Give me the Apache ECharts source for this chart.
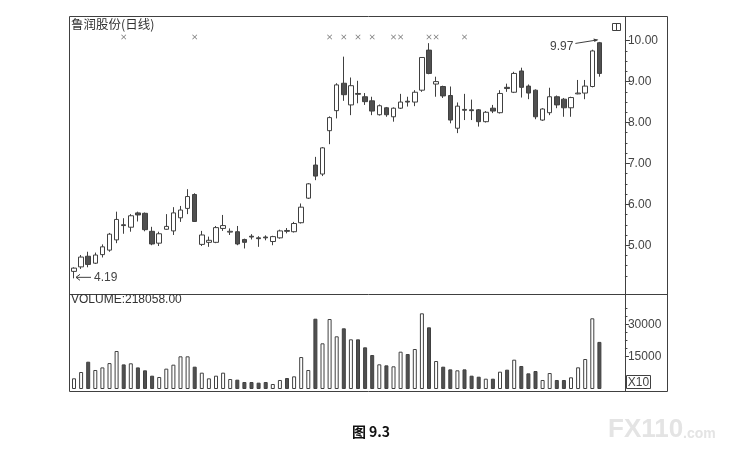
<!DOCTYPE html>
<html><head><meta charset="utf-8">
<script src="https://cdn.jsdelivr.net/npm/echarts@6/dist/echarts.min.js"></script>
<style>html,body{margin:0;padding:0;background:#fff}#c{width:733px;height:454px}</style>
</head><body><div id="c"></div>
<script>
// ---- data ----
const openP  = [4.36,4.47,4.73,4.56,4.77,4.88,5.13,5.50,5.44,5.79,5.78,5.34,5.05,5.39,5.35,5.67,5.90,6.24,5.02,5.07,5.07,5.41,5.32,5.33,5.14,5.22,5.18,5.20,5.09,5.18,5.36,5.33,5.55,6.15,6.96,6.74,7.80,8.29,8.96,8.43,8.71,8.63,8.53,8.19,8.36,8.14,8.35,8.52,8.50,8.79,9.77,8.94,8.88,8.66,7.86,8.32,8.31,8.31,8.02,8.35,8.24,8.86,8.74,9.26,8.89,8.79,8.06,8.24,8.63,8.57,8.36,8.70,8.72,8.88,9.95];
const closeP = [4.44,4.71,4.53,4.76,4.96,5.27,5.63,5.48,5.72,5.74,5.38,5.03,5.28,5.46,5.79,5.86,6.19,5.58,5.25,5.12,5.43,5.48,5.34,5.03,5.07,5.20,5.16,5.18,5.21,5.35,5.34,5.53,5.93,6.50,6.69,7.38,8.12,8.92,8.68,8.90,8.69,8.51,8.28,8.41,8.19,8.35,8.50,8.50,8.74,9.59,9.20,9.00,8.65,8.06,8.40,8.30,8.29,8.02,8.25,8.28,8.71,8.83,9.20,8.86,8.72,8.14,8.33,8.63,8.43,8.36,8.61,8.72,8.89,9.75,9.20];
const lowP   = [4.19,4.42,4.46,4.54,4.70,4.84,5.05,5.28,5.33,5.58,5.34,5.00,4.98,5.38,5.25,5.57,5.76,5.57,4.98,4.96,5.05,5.35,5.25,5.00,4.92,5.14,4.96,5.12,5.00,5.16,5.29,5.31,5.53,6.13,6.59,6.69,7.47,8.10,8.53,8.18,8.47,8.43,8.18,8.17,8.14,8.02,8.33,8.39,8.40,8.75,9.18,8.63,8.60,7.98,7.74,8.06,8.06,7.90,8.00,8.23,8.22,8.75,8.72,8.61,8.57,8.08,8.04,8.18,8.35,8.14,8.14,8.69,8.57,8.86,9.12];
const highP  = [4.46,4.76,4.84,4.82,5.02,5.30,5.82,5.66,5.76,5.82,5.80,5.45,5.33,5.76,5.93,5.96,6.37,6.27,5.35,5.21,5.47,5.74,5.41,5.47,5.16,5.27,5.22,5.24,5.23,5.38,5.42,5.57,6.02,6.52,7.16,7.40,8.15,8.96,9.61,9.10,9.02,8.72,8.63,8.44,8.38,8.37,8.70,8.63,8.79,9.60,9.94,9.12,8.90,8.88,8.49,8.70,8.56,8.33,8.28,8.43,8.79,8.95,9.24,9.34,8.93,8.81,8.35,8.85,8.66,8.60,8.63,9.04,9.04,9.78,9.97];
// volume in units of 10 shares (axis is marked X10)
const volume = [4950,7870,12640,8800,10000,12000,17600,11400,11900,10000,8650,6170,5560,9420,11270,15130,15130,10340,7560,4940,6170,7560,4630,4320,3240,3240,2930,3240,2320,4170,5090,5860,14800,8800,32550,21150,32400,24390,28100,23000,23000,19300,15740,11430,10960,10500,17280,16200,18520,35040,28560,12960,10340,9100,8650,9100,6170,5700,4780,4780,8020,8950,13580,10650,7250,8330,4170,7400,4170,4170,5400,10040,13890,32730,21806];
// days carrying an "x" signal mark above the candles
const markDays = [7,17,36,38,40,42,45,46,50,51,55];
const markLevel = 10.09;
const priceTicks = [5,6,7,8,9,10];
const volTicks = [15000,30000];
const categories = openP.map((_, i) => 'D' + (i + 1));
const titleText = '鲁润股份(日线)';
const volLabel = 'VOLUME:218058.00';
const caption = '图 9.3';

// ---- chart ----
const chart = echarts.init(document.getElementById('c'));
const PMIN = 3.807, PMAX = 10.604;
const VMIN = -1389, VMAX = 43985;
const GL = 70.45, GW = 532.5;
const INK = '#404040', DARK = '#505050';

const candle = openP.map((o, i) => [o, closeP[i], lowP[i], highP[i]]);
const volData = volume.map((v, i) => ({
  value: v,
  itemStyle: closeP[i] >= openP[i]
    ? { color: '#fff', borderColor: INK, borderWidth: 1 }
    : { color: DARK, borderColor: INK, borderWidth: 1 }
}));
const minorP = [];
for (let k = 17; k <= 40; k++) { const v = k / 4; if (v % 1 !== 0) minorP.push(v); }
const minorV = [18750, 22500, 26250, 33750, 37500];

const labelStyle = { color: '#444', fontSize: 12, fontFamily: 'Liberation Sans, Arial, sans-serif', margin: 3 };

chart.setOption({
  animation: false,
  backgroundColor: '#fff',
  grid: [
    { left: GL, width: GW, top: 16, height: 278 },
    { left: GL, width: GW, top: 294, height: 98 }
  ],
  xAxis: [
    { type: 'category', gridIndex: 0, data: categories, boundaryGap: true, show: false },
    { type: 'category', gridIndex: 1, data: categories, boundaryGap: true, show: false }
  ],
  yAxis: [
    { type: 'value', gridIndex: 0, position: 'right', offset: 22, min: PMIN, max: PMAX,
      axisLine: { show: false }, splitLine: { show: false },
      axisTick: { show: true, length: 5, customValues: priceTicks, lineStyle: { color: INK } },
      axisLabel: Object.assign({ customValues: priceTicks, formatter: v => v.toFixed(2) }, labelStyle) },
    { type: 'value', gridIndex: 0, position: 'right', offset: 22, min: PMIN, max: PMAX,
      axisLine: { show: false }, splitLine: { show: false },
      axisTick: { show: true, length: 2.5, customValues: minorP, lineStyle: { color: INK } },
      axisLabel: { show: false } },
    { type: 'value', gridIndex: 1, position: 'right', offset: 22, min: VMIN, max: VMAX,
      axisLine: { show: false }, splitLine: { show: false },
      axisTick: { show: true, length: 4, customValues: volTicks, lineStyle: { color: INK } },
      axisLabel: Object.assign({ customValues: volTicks, formatter: v => String(v), margin: 1 }, labelStyle) },
    { type: 'value', gridIndex: 1, position: 'right', offset: 22, min: VMIN, max: VMAX,
      axisLine: { show: false }, splitLine: { show: false },
      axisTick: { show: true, length: 2.5, customValues: minorV, lineStyle: { color: INK } },
      axisLabel: { show: false } }
  ],
  series: [
    { type: 'candlestick', xAxisIndex: 0, yAxisIndex: 0, data: candle, barWidth: 5,
      itemStyle: { color: '#fff', color0: DARK, borderColor: INK, borderColor0: INK, borderWidth: 1 } },
    { type: 'scatter', xAxisIndex: 0, yAxisIndex: 0, data: markDays.map(d => [d, markLevel]),
      symbol: 'path://M0,1L1,0L5,4L9,0L10,1L6,5L10,9L9,10L5,6L1,10L0,9L4,5Z', symbolSize: 5,
      itemStyle: { color: '#555' } },
    { type: 'bar', xAxisIndex: 1, yAxisIndex: 2, data: volData, barWidth: 4 }
  ]
});

// ---- annotations & frame ----
const hi = chart.convertToPixel({ xAxisIndex: 0, yAxisIndex: 0 }, [74, highP[74]]);
const lo = chart.convertToPixel({ xAxisIndex: 0, yAxisIndex: 0 }, [0, lowP[0]]);
const txt = (x, y, s, o) => Object.assign({ type: 'text', x, y, silent: true,
  style: Object.assign({ text: s, fill: '#333', font: '12px "Liberation Sans", Arial, sans-serif', textVerticalAlign: 'middle' }, o || {}) });
const ln = (x1, y1, x2, y2, c) => ({ type: 'line', silent: true, shape: { x1, y1, x2, y2 }, style: { stroke: c || INK, lineWidth: 1 } });

chart.setOption({
  graphic: [
    { type: 'rect', silent: true, shape: { x: 69.5, y: 16.5, width: 598, height: 375 }, style: { fill: null, stroke: INK, lineWidth: 1 } },
    ln(625.5, 16.5, 625.5, 391.5),
    ln(69.5, 294.5, 667.5, 294.5),
    txt(71, 24, titleText, { font: '12.5px "Noto Sans CJK SC", sans-serif', fill: '#333' }),
    txt(71, 300, volLabel, { fill: '#333' }),
    { type: 'rect', silent: true, shape: { x: 612.5, y: 23.5, width: 8, height: 7 }, style: { fill: null, stroke: INK } },
    ln(616.5, 23.5, 616.5, 30.5),
    { type: 'rect', silent: true, shape: { x: 626.5, y: 375.5, width: 24, height: 13 }, style: { fill: null, stroke: INK } },
    txt(638.5, 382.5, 'X10', { textAlign: 'center', fill: '#444' }),
    // 9.97 label
    txt(hi[0] - 26, hi[1] + 5, highP[74].toFixed(2), { textAlign: 'right', fill: '#444' }),
    ln(hi[0] - 24, hi[1] + 1.5, hi[0] - 2, hi[1] - 2),
    { type: 'polygon', silent: true, shape: { points: [[hi[0] - 1, hi[1] - 2.2], [hi[0] - 6, hi[1] - 3.5], [hi[0] - 5, hi[1]]] }, style: { fill: INK } },
    // 4.19 label
    ln(lo[0] + 2, lo[1] - 1, lo[0] + 17, lo[1] - 1),
    ln(lo[0] + 2, lo[1] - 1, lo[0] + 6, lo[1] - 4),
    ln(lo[0] + 2, lo[1] - 1, lo[0] + 6, lo[1] + 2),
    txt(lo[0] + 20, lo[1] - 1, lowP[0].toFixed(2), { fill: '#444' }),
    // caption and watermark
    txt(371, 432, caption, { textAlign: 'center', font: 'bold 14px "Noto Sans CJK SC", sans-serif', fill: '#111' }),
    txt(608, 430, 'FX110', { font: 'bold 26px "Liberation Sans", Arial, sans-serif', fill: '#e4e4e4' }),
    txt(683, 434, '.com', { font: 'bold 14px "Liberation Sans", Arial, sans-serif', fill: '#e4e4e4' })
  ]
});
</script>
</body></html>
